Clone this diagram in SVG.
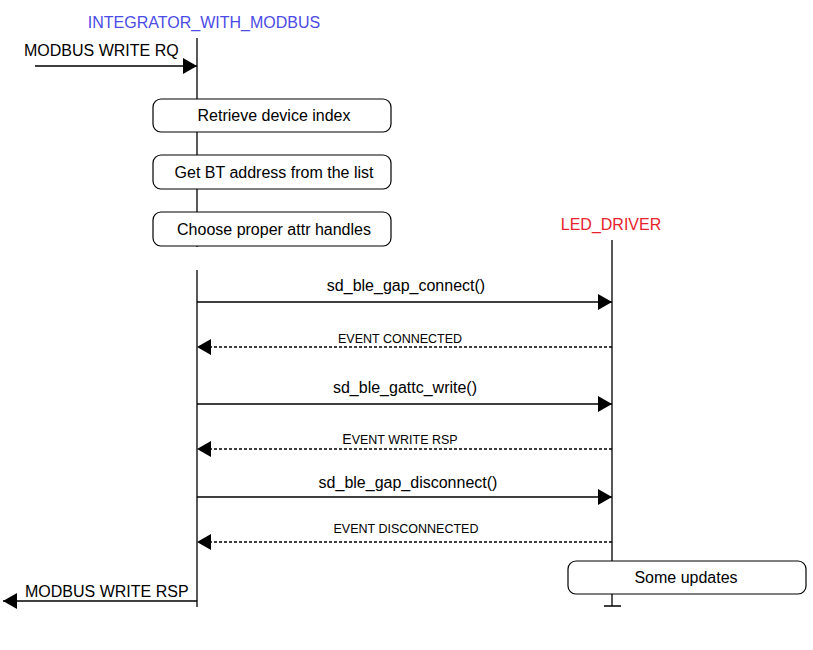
<svg xmlns="http://www.w3.org/2000/svg" width="813" height="650" viewBox="0 0 813 650">
<style>
text{font-family:"Liberation Sans",Arial,sans-serif;fill:#000}
.t{font-size:16px}
.s{font-size:12.5px}
.life{stroke:#000;stroke-width:1.3;fill:none}
.box{fill:#fff;stroke:#000;stroke-width:1.2}
.msg{stroke:#000;stroke-width:1.5;fill:none}
.ret{stroke:#000;stroke-width:1.3;fill:none;stroke-dasharray:3 2}
</style>
<defs>
<marker id="ah" markerWidth="14" markerHeight="16" refX="14" refY="8" orient="auto" markerUnits="userSpaceOnUse"><path d="M0,0 L14,8 L0,16 Z" fill="#000"/></marker>
</defs>
<rect width="813" height="650" fill="#fff"/>
<g id="integrator">
<text x="204" y="28" text-anchor="middle" class="t" style="fill:#4b4be6">INTEGRATOR_WITH_MODBUS</text>
<path class="life" d="M197,38 V247 M197,270 V607"/>
</g>
<g id="led_driver">
<text x="611" y="230" text-anchor="middle" class="t" style="fill:#e8222c">LED_DRIVER</text>
<path class="life" d="M612,240 V606 M604,606 H621"/>
</g>
<g id="n_retrieve"><rect class="box" x="153" y="99" width="238" height="33" rx="8"/><text class="t" x="274" y="121" text-anchor="middle">Retrieve device index</text></g>
<g id="n_getbt"><rect class="box" x="153" y="155" width="238" height="34" rx="8"/><text class="t" x="274" y="178" text-anchor="middle">Get BT address from the list</text></g>
<g id="n_choose"><rect class="box" x="153" y="212" width="238" height="34" rx="8"/><text class="t" x="274" y="235" text-anchor="middle">Choose proper attr handles</text></g>
<g id="n_updates"><rect class="box" x="568" y="561" width="238" height="33" rx="8"/><text class="t" x="686" y="583" text-anchor="middle">Some updates</text></g>
<g id="connectors">
<line class="msg" x1="35" y1="66" x2="197" y2="66" marker-end="url(#ah)"/>
<line class="msg" x1="197" y1="302" x2="612" y2="302" marker-end="url(#ah)"/>
<line class="ret" x1="612" y1="347" x2="197" y2="347" marker-end="url(#ah)"/>
<line class="msg" x1="197" y1="404" x2="612" y2="404" marker-end="url(#ah)"/>
<line class="ret" x1="612" y1="449" x2="197" y2="449" marker-end="url(#ah)"/>
<line class="msg" x1="197" y1="497" x2="612" y2="497" marker-end="url(#ah)"/>
<line class="ret" x1="612" y1="542" x2="197" y2="542" marker-end="url(#ah)"/>
<line class="msg" x1="197" y1="601" x2="3" y2="601" marker-end="url(#ah)"/>
</g>
<g id="labels">
<text class="t" x="24" y="56">MODBUS WRITE RQ</text>
<text class="t" x="406" y="291" text-anchor="middle">sd_ble_gap_connect()</text>
<text class="s" x="400" y="343" text-anchor="middle">EVENT CONNECTED</text>
<text class="t" x="405" y="393" text-anchor="middle">sd_ble_gattc_write()</text>
<text class="s" x="400" y="444" text-anchor="middle"><tspan font-size="14">E</tspan>VENT WRITE RSP</text>
<text class="t" x="408" y="488" text-anchor="middle">sd_ble_gap_disconnect()</text>
<text class="s" x="406" y="533" text-anchor="middle">EVENT DISCONNECTED</text>
<text class="t" x="25" y="597">MODBUS WRITE RSP</text>
</g>
</svg>
